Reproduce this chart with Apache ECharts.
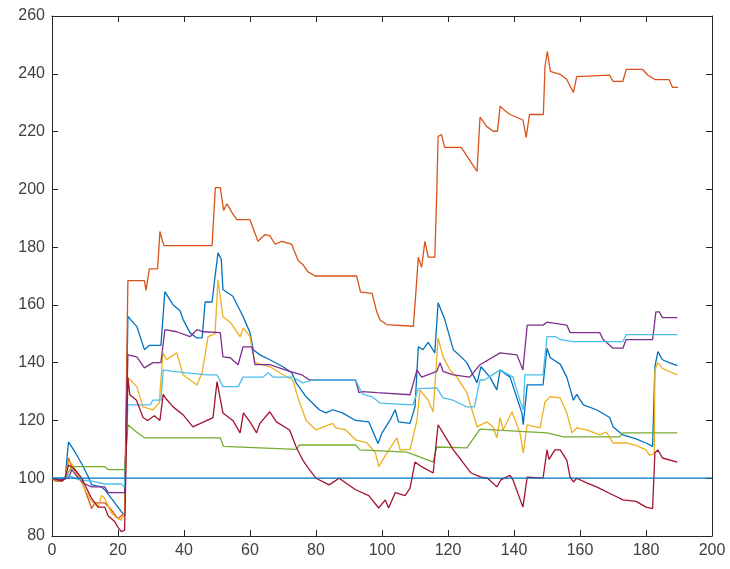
<!DOCTYPE html>
<html>
<head>
<meta charset="utf-8">
<script src="https://cdn.jsdelivr.net/npm/echarts@6/dist/echarts.min.js"></script>
<style>
  html, body { margin: 0; padding: 0; background: #fff; }
  #chart { width: 730px; height: 569px; }
</style>
</head>
<body>
<div id="chart"></div>
<script>
// Axis ranges and ticks
const xTicks = [0, 20, 40, 60, 80, 100, 120, 140, 160, 180, 200];
const yTicks = [80, 100, 120, 140, 160, 180, 200, 220, 240, 260];

// Index series, [step, value] pairs
const seriesBlue = [[0,100],[1,99.5],[3,99],[4,100],[5,112.6],[7,109],[9,105],[11,100.5],[12,97.7],[15,97],[16,96],[18,93],[20,90],[22,87],
  [23,156],[25.7,152.5],[28,144.5],[29.5,146],[33,146],[34.2,164.6],[36.7,160],[38.8,158],[39.7,155],[41.8,150.4],[43.8,148.6],[45.5,148.6],[46.4,161],[48.5,161],[49.4,169.8],[50.3,178],[51.3,175.8],[51.8,165.3],[54.8,163],[57.9,156],[60,150.4],[61,144.5],[63,142.7],[66,141],[70,138.6],[72.7,136.5],[74,133],[77,128.2],[81,123.7],[83,122.6],[85,123.7],[88,122.6],[92,120],[96,119.5],[98.8,112],[100,115.7],[102.4,120],[104,123.7],[105,119.5],[108.5,119],[110,124.7],[111,145.5],[112.4,144.5],[114,147],[116,143.4],[117,160.7],[119,155],[121.6,144.5],[124,142],[125.7,140],[128.8,133],[130,138.6],[132.7,135],[134.8,130.6],[135.8,137.5],[138.8,135],[142.4,122.6],[142.8,118.5],[144,132.3],[148.8,132.3],[150,145],[151,141.7],[154,139.5],[156,135],[158,127],[159,129],[161,125.4],[165,123.7],[169,121],[170,117.8],[173,115],[177,113.6],[180,112.2],[182,111],[182.7,138.6],[183.6,143.8],[185,141],[187,140],[189.5,139]];

const seriesOrange = [[0,100],[1,99],[3,99],[4,100],[5,107],[6,104],[8,101],[10,96],[12,89.5],[13,91.5],[16,91.5],[18,89],[20,86],[22,88],
  [23,168.4],[28,168.4],[28.5,165],[29.5,172.5],[32,172.5],[32.7,185.4],[33.5,182],[34,180.5],[48.5,180.5],[49.5,200.6],[51,200.6],[52,192.7],[53,195],[54.5,192],[56,189.5],[60,189.5],[62.4,182],[64.5,184.3],[66,184],[67.6,181],[69.6,182],[72.6,181],[74.6,175.4],[76,174],[77.5,171.5],[79.7,170],[92.3,170],[93.5,164.4],[97,164],[98.4,157.6],[99.4,154.8],[101.4,153.2],[109.5,152.6],[110.5,168],[111,176.5],[112,173],[113,182],[114,176.5],[116,176.5],[116.6,199],[117,218.3],[118,219],[119,214.5],[124,214.5],[128.8,206.2],[129.7,225],[131.7,221.8],[133.7,220.1],[135,220.1],[135.8,228.8],[137,227.5],[138.8,225.9],[142.7,224],[143.7,218],[144.7,225.9],[148.9,225.9],[149.4,242.6],[150.1,247.8],[151,240.8],[154,239.8],[156,238],[158,233.5],[159,239],[169,239.5],[170,237.4],[173,237.4],[174,241.5],[179,241.5],[180.6,239.5],[182.7,238],[187,238],[188,235.3],[189.7,235.3]];

const seriesYellow = [[0,100],[3,99],[4,100],[5,106],[6,105],[8,101],[10,96],[12,92],[14,90],[15,94],[16,93],[18,88],[20,86],[21,85.5],[22,88],
  [23,134.8],[25.7,131.7],[27.6,124.7],[30.6,123.7],[32.5,126],[33.6,143.4],[34.7,141],[37.8,143.4],[39.7,135.8],[43.9,132.3],[45.5,136.5],[47.3,149],[49.4,150],[50.3,168.7],[51.8,155.9],[54,154],[57,149],[58,152],[60,149],[61.5,140],[66,138.6],[69,136.5],[73,134],[74.5,128],[77,120],[80,116.7],[85,119],[86,117.4],[89,116.7],[92,113.3],[95.5,112.2],[98,108.8],[99,104],[101.5,108.8],[104.5,114],[105.5,109.8],[108.5,110],[110.6,120],[111.5,130.6],[114,127],[115.5,123],[117,148.6],[118.5,142],[120.6,137.5],[122.7,135],[125.7,129.6],[127,124.7],[128.8,117.8],[131.8,119.5],[133.6,117.8],[134.8,114],[135.8,121],[136.7,116.7],[139.4,123],[141.8,115.7],[142.8,108.8],[144,118.5],[147.9,117.4],[149.4,126.4],[151,128.2],[154,127.8],[156,122.6],[157.6,115.7],[159,117.4],[162,116.7],[166,115],[168,116],[170,112.2],[174,112.2],[177,111.4],[180,109.8],[181,108],[182.5,108.5],[182.7,137.5],[183.6,140],[185,138],[188,136.5],[189.5,135.8]];

const seriesPurple = [[0,100],[3,99.5],[5,100],[6,103],[8,100],[10,98],[12,97],[16,97],[17,95],[22,95],
  [23,142.7],[25.7,142],[28,138.2],[30.6,140],[33,140],[34.2,151.4],[37.8,150.7],[41.8,149],[43.9,151.4],[46,150.7],[51,150.4],[51.8,142],[54,141.7],[56.4,139.3],[57.9,145.5],[60.6,145.5],[61.5,139.3],[66,139.3],[72,137],[75.7,135.8],[78,134],[92,134],[93,129.6],[94,130],[98.5,129.6],[108.5,128.9],[110.6,137.5],[112,135],[116.6,137],[117.6,140],[118.5,137],[121.6,135.8],[126.6,135],[129.7,139.3],[135.8,143.4],[140.9,142.7],[142.7,137.5],[144,153],[148.8,153],[150,154],[156,153],[157,150.4],[166,150.4],[167,148],[169,146],[170,145],[173,145],[174,148],[182,148],[183,157.6],[184,157.6],[185,155.6],[189.5,155.6]];

const seriesGreen = [[0,100],[4,100],[6,104],[16,104],[17,103],[22,103],
  [23,118.5],[25.6,116],[28,114],[51,114],[52,111],[74,110],[75,111.5],[92,111.5],[93.3,109.8],[107.5,109],[110,108],[115.5,105.6],[116.6,110.8],[125.7,110.5],[129.7,117],[150,115.7],[155,114.3],[172,114.3],[173,115.7],[189.5,115.7]];

const seriesCyan = [[0,100],[4,100],[5,101],[8,99.5],[12,99],[16,98],[21,98],[22,97],
  [23,125.4],[29.7,125.4],[30.6,127],[33,127],[33.7,137.5],[36.7,137],[40.9,136.5],[47,135.8],[50,135.8],[51.8,131.7],[56.4,131.7],[57.9,135],[64,135],[65.5,136.5],[67,135],[73,135],[76,133],[79,134],[92,134],[94,129.2],[97,128.2],[99.4,126],[109.4,125.4],[111,131],[116.6,131.3],[118.5,127.8],[121.5,127],[125.7,124.7],[128,124.7],[129.7,134],[131,134],[135.8,137.5],[139.7,135],[141.8,127],[142.8,123.7],[143.3,135.8],[148.8,135.8],[150,149],[152.7,149],[154,148],[158,147.3],[173,147.3],[174,149.7],[189.5,149.7]];

const seriesRed = [[0,100],[3,99],[4,100],[5,104.6],[7,103],[9,100],[12,93],[14,90],[16,90],[17,87],[19,85],[20,83],[21,81.5],[22,82],
  [23,134.8],[23.6,128.9],[25.6,127],[27.6,121],[29,120],[31,121.6],[32.7,120],[33.7,129],[34.5,127.6],[36.7,124.7],[39.7,122],[42.7,117.8],[47,120],[48.8,121],[50,133.4],[51.8,122.6],[54.8,120],[57,115.7],[58,122.6],[60,119.5],[62,115.7],[63,119],[66,123],[68,119.5],[72,116.7],[74,110.8],[76,106.3],[78,103],[80,100],[84,97.7],[87,100],[92,96],[96,94],[99,89.7],[101,92.5],[102,89.7],[104,95],[107,94],[108.5,96.6],[110,105.6],[112,104],[115.5,101.8],[117,118.5],[118.5,115.7],[121.6,109.8],[124,106.3],[127,101.8],[130,100.4],[132,100],[134.8,97],[136,99.4],[138.8,101],[139.7,99.4],[142.7,90],[144,100.4],[148.8,100],[150,109.8],[150.6,106.5],[152.4,109.8],[154,109.8],[156,106.3],[157,100.4],[158,98.7],[159,100],[162,98.4],[165,97],[170,94.2],[173,92.5],[177,92],[180,90],[182,89.5],[182.7,108.8],[183.6,109.8],[185,107],[189.5,105.6]];

// Baseline at 100
const seriesBase = [[0,100],[200,100]];

const palette = ['#0072BD', '#D95319', '#EDB120', '#7E2F8E', '#77AC30', '#4DBEEE', '#A2142F', '#0072BD'];
const allSeries = [seriesBlue, seriesOrange, seriesYellow, seriesPurple, seriesGreen, seriesCyan, seriesRed, seriesBase];

const axisColor = '#262626';
const labelStyle = { color: '#404040', fontFamily: 'Liberation Sans, Arial, sans-serif', fontSize: 16 };

const chart = echarts.init(document.getElementById('chart'), null, { renderer: 'canvas' });

function boxAxis(position, min, max, interval, showLabels, ticks) {
  return {
    type: 'value', position, min, max, interval,
    axisLine: { show: true, onZero: false, lineStyle: { color: axisColor, width: 1 } },
    axisTick: { show: true, inside: true, length: 6, lineStyle: { color: axisColor } },
    axisLabel: Object.assign({ show: showLabels, margin: 7,
      formatter: v => ticks.includes(v) ? String(v) : '' }, labelStyle),
    splitLine: { show: false }
  };
}

chart.setOption({
  animation: false,
  backgroundColor: '#ffffff',
  grid: { left: 52, right: 18, top: 16, bottom: 33 },
  xAxis: [
    boxAxis('bottom', xTicks[0], xTicks[xTicks.length - 1], 20, true, xTicks),
    boxAxis('top', xTicks[0], xTicks[xTicks.length - 1], 20, false, xTicks)
  ],
  yAxis: [
    boxAxis('left', yTicks[0], yTicks[yTicks.length - 1], 20, true, yTicks),
    boxAxis('right', yTicks[0], yTicks[yTicks.length - 1], 20, false, yTicks)
  ],
  series: allSeries.map((d, i) => ({
    type: 'line',
    name: 'Index ' + (i + 1),
    data: d,
    xAxisIndex: 0,
    yAxisIndex: 0,
    showSymbol: false,
    symbol: 'none',
    lineStyle: { color: palette[i], width: 1.3 },
    itemStyle: { color: palette[i] },
    z: 2 + i
  }))
});
</script>
</body>
</html>
